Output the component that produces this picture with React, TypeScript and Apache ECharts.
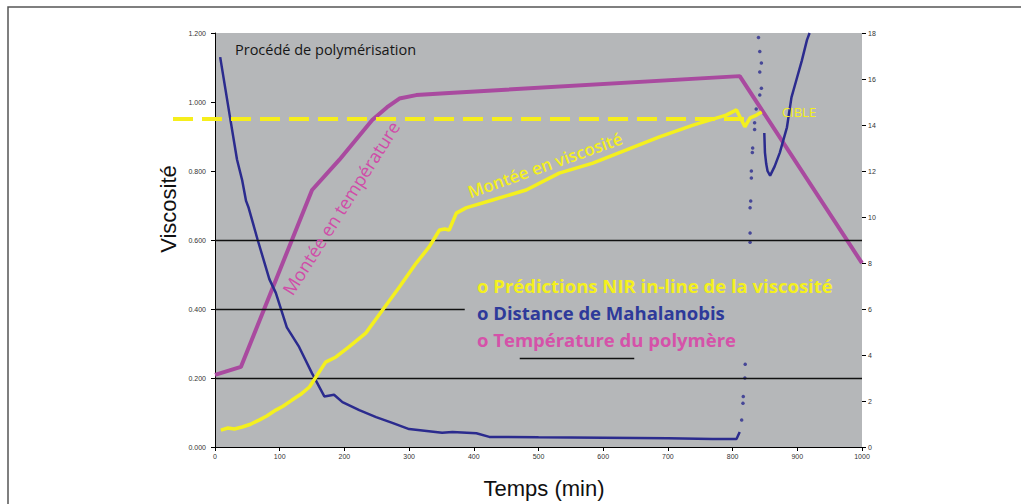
import React, { useEffect, useRef } from "react";
import * as echarts from "echarts";

// ---- data ----
const xTicks = [0, 100, 200, 300, 400, 500, 600, 700, 800, 900, 1000];
const leftTicks = [0, 0.2, 0.4, 0.6, 0.8, 1.0, 1.2];
const rightTicks = [0, 2, 4, 6, 8, 10, 12, 14, 16, 18];

// Prédictions NIR in-line de la viscosité (left axis)
const viscX = [9, 20, 30, 42, 55, 68, 80, 94, 105, 119, 132, 146, 156, 171, 187, 207, 233, 259, 285, 311, 331, 347, 355, 362, 373, 388, 393, 429, 481, 532, 584, 636, 687, 739, 790, 806, 819, 827, 837, 845];
const viscY = [0.049, 0.055, 0.052, 0.058, 0.066, 0.078, 0.09, 0.107, 0.118, 0.136, 0.152, 0.174, 0.203, 0.246, 0.261, 0.29, 0.33, 0.397, 0.464, 0.533, 0.58, 0.629, 0.632, 0.629, 0.678, 0.693, 0.696, 0.716, 0.745, 0.794, 0.823, 0.861, 0.899, 0.933, 0.962, 0.977, 0.928, 0.954, 0.962, 0.971];

// Température du polymère (drawn in left-axis units)
const tempX = [0, 40, 150, 192, 243, 266, 285, 311, 362, 811, 1000];
const tempY = [0.209, 0.232, 0.745, 0.832, 0.948, 0.985, 1.01, 1.02, 1.026, 1.075, 0.533];

// Distance de Mahalanobis (right axis)
const mahaX = [8, 24, 34, 42, 48, 52, 66, 84, 94, 111, 130, 150, 169, 184, 197, 223, 249, 274, 300, 351, 367, 404, 424, 500, 600, 700, 769, 806, 811];
const mahaY = [16.95, 14.2, 12.5, 11.6, 10.7, 10.4, 9.0, 7.3, 6.7, 5.2, 4.35, 3.2, 2.2, 2.27, 1.95, 1.6, 1.3, 1.05, 0.78, 0.62, 0.65, 0.6, 0.44, 0.42, 0.4, 0.38, 0.35, 0.35, 0.65];
const mahaSparseX = [814, 816, 816.5, 819, 819.5, 827, 827, 827, 828, 829, 829, 830.5, 831, 834, 834, 836.5, 842, 844.5, 842, 844.5, 842, 840];
const mahaSparseY = [1.17, 1.9, 2.2, 3.0, 3.6, 8.9, 9.3, 10.4, 10.7, 11.7, 12.0, 12.8, 13.0, 13.8, 14.1, 14.7, 15.3, 15.6, 16.3, 16.7, 17.2, 17.8];
const mahaBranchX = [849, 850, 852, 854, 858, 865, 873, 877, 884, 891, 899, 907, 915, 919];
const mahaBranchY = [13.65, 12.8, 12.3, 12.0, 11.8, 12.2, 12.8, 13.2, 13.9, 15.2, 16.0, 16.8, 17.7, 18.0];

const targetViscosity = 0.951;
const gridValues = [0.2, 0.6];

const zip = (xs: number[], ys: number[]) => xs.map((x, i) => [x, ys[i]]);

export default function App() {
  const ref = useRef<HTMLDivElement>(null);
  useEffect(() => {
    if (!ref.current) return;
    const chart = echarts.init(ref.current, undefined, { renderer: "svg" });
    const calibri = "'Open Sans', Lato, sans-serif";
    const yellowShadow = { shadowColor: "rgba(40,40,0,0.55)", shadowOffsetX: 1, shadowOffsetY: 1, shadowBlur: 1 };
    chart.setOption({
      animation: false,
      backgroundColor: "#ffffff",
      grid: { left: 215, top: 33, width: 647, height: 414, show: true, backgroundColor: "#b5b7b9", borderWidth: 0 },
      xAxis: {
        type: "value", min: xTicks[0], max: xTicks[xTicks.length - 1], interval: 100,
        axisLine: { lineStyle: { color: "#000", width: 1 } },
        axisTick: { length: 4, lineStyle: { color: "#000" } },
        axisLabel: { fontSize: 7, color: "#333", margin: 6, fontFamily: "Liberation Sans", formatter: (v: number) => String(v) },
        splitLine: { show: false },
      },
      yAxis: [
        {
          type: "value", min: leftTicks[0], max: leftTicks[leftTicks.length - 1], interval: 0.2, position: "left",
          axisLine: { show: true, lineStyle: { color: "#000", width: 1 } },
          axisTick: { show: true, length: 4, lineStyle: { color: "#000" } },
          axisLabel: { fontSize: 7, color: "#333", margin: 9, fontFamily: "Liberation Sans", formatter: (v: number) => v.toFixed(3) },
          splitLine: { show: false },
        },
        {
          type: "value", min: rightTicks[0], max: rightTicks[rightTicks.length - 1], interval: 2, position: "right",
          axisLine: { show: false },
          axisTick: { show: true, length: 4, lineStyle: { color: "#000" } },
          axisLabel: { fontSize: 7, color: "#333", margin: 6, fontFamily: "Liberation Sans" },
          splitLine: { show: false },
        },
      ],
      series: [
        {
          type: "line", data: [], z: 1, silent: true,
          markLine: {
            silent: true, symbol: ["none", "none"], label: { show: false },
            lineStyle: { color: "#111", width: 1.3, type: "solid" },
            data: [
              ...gridValues.map((v) => [{ coord: [xTicks[0], v] }, { coord: [xTicks[xTicks.length - 1], v] }]),
              [{ coord: [0, 0.4] }, { coord: [386, 0.4] }],
              [{ coord: [471, 0.258] }, { coord: [648, 0.258] }],
            ],
          },
        },
        {
          name: "Température du polymère", type: "line", data: zip(tempX, tempY), yAxisIndex: 0,
          showSymbol: false, lineStyle: { color: "#a94a9f", width: 4 }, z: 3,
        },
        {
          name: "Distance de Mahalanobis", type: "line", data: zip(mahaX, mahaY), yAxisIndex: 1,
          showSymbol: false, lineStyle: { color: "#2b2b8e", width: 2.5 }, z: 4,
        },
        {
          name: "Distance de Mahalanobis (suite)", type: "line", data: zip(mahaBranchX, mahaBranchY), yAxisIndex: 1,
          showSymbol: false, lineStyle: { color: "#2b2b8e", width: 2.5 }, z: 4,
        },
        {
          type: "scatter", data: zip(mahaSparseX, mahaSparseY), yAxisIndex: 1,
          symbol: "circle", symbolSize: 3.5, itemStyle: { color: "#2b2b8e" }, z: 4,
        },
        {
          name: "Prédictions NIR", type: "line", data: zip(viscX, viscY), yAxisIndex: 0,
          showSymbol: false, lineStyle: { color: "#f4f01e", width: 3.5 }, z: 5,
        },
        {
          type: "line", data: [], z: 6, silent: true,
          markLine: {
            silent: true, symbol: ["none", "none"], label: { show: false },
            lineStyle: { color: "#f6ee1c", width: 4, type: [20, 9] },
            data: [[{ x: 173, yAxis: targetViscosity }, { coord: [819, targetViscosity] }]],
          },
        },
      ],
      graphic: [
        { type: "rect", shape: { x: 8, y: 7, width: 1200, height: 700 }, style: { fill: "none", stroke: "#555", lineWidth: 1.5 }, silent: true, z: 100 },
        { type: "text", x: 235, y: 49, style: { text: "Procédé de polymérisation", fill: "#161616", font: `14.5px ${calibri}`, align: "left", verticalAlign: "middle" }, z: 100 },
        { type: "text", x: 168, y: 209, rotation: Math.PI / 2, style: { text: "Viscosité", fill: "#111", font: "22px 'Liberation Sans'", align: "center", verticalAlign: "middle" }, z: 100 },
        { type: "text", x: 544, y: 488, style: { text: "Temps (min)", fill: "#111", font: "22px 'Liberation Sans'", align: "center", verticalAlign: "middle" }, z: 100 },
        { type: "text", x: 341, y: 208, rotation: (57.6 * Math.PI) / 180, style: { text: "Montée en température", fill: "#d04ca8", font: `18px ${calibri}`, align: "center", verticalAlign: "middle" }, z: 100 },
        { type: "text", x: 545, y: 165, rotation: (19.7 * Math.PI) / 180, style: { text: "Montée en viscosité", fill: "#f4f01e", font: `600 17px ${calibri}`, align: "center", verticalAlign: "middle", ...yellowShadow }, z: 100 },
        { type: "text", x: 799, y: 112, style: { text: "CIBLE", fill: "#f4f01e", font: `13px ${calibri}`, align: "center", verticalAlign: "middle", ...yellowShadow }, z: 100 },
        { type: "text", x: 477, y: 285, style: { text: "o Prédictions NIR in-line de la viscosité", fill: "#f4f01e", font: `bold 18.5px ${calibri}`, align: "left", verticalAlign: "middle", ...yellowShadow }, z: 100 },
        { type: "text", x: 477, y: 312, style: { text: "o Distance de Mahalanobis", fill: "#2e3a9a", font: `bold 18.5px ${calibri}`, align: "left", verticalAlign: "middle" }, z: 100 },
        { type: "text", x: 477, y: 339, style: { text: "o Température du polymère", fill: "#d552a9", font: `bold 18.5px ${calibri}`, align: "left", verticalAlign: "middle" }, z: 100 },
      ],
    });
    return () => chart.dispose();
  }, []);
  return <div ref={ref} style={{ position: "absolute", left: 0, top: 0, width: 1021, height: 504 }} />;
}
